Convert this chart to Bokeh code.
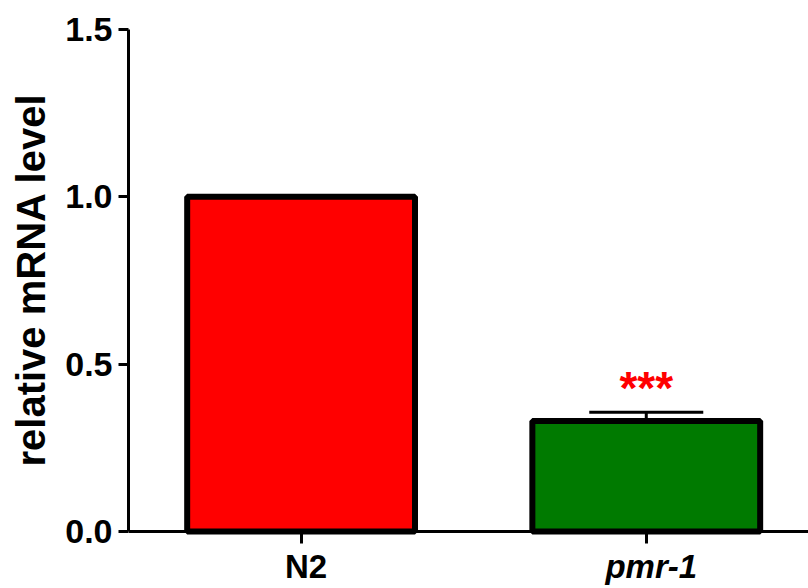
from bokeh.plotting import figure
from bokeh.models import ColumnDataSource, Whisker, TeeHead, FixedTicker, Range1d, Title
from bokeh.core.properties import value
from bokeh.embed import file_html
from bokeh.resources import INLINE

categories = ["N2", "pmr-1"]
values = [1.0, 0.33]
errors = [0.0, 0.026]
colors = ["#FF0000", "#007A00"]
signif = ["", "***"]
label_styles = ["bold", "bold italic"]
yticks = [0.0, 0.5, 1.0, 1.5]
y_title = "relative mRNA level"

xpos = [i + 1 for i in range(len(categories))]
upper = [v + e for v, e in zip(values, errors)]
src = ColumnDataSource(dict(x=xpos, top=values, color=colors, upper=upper,
                            sig=signif, name=categories, style=label_styles))

FONT = "Liberation Sans"
LABEL_ROW = -0.104  # data-y where category names sit (below the baseline)

p = figure(frame_width=680, frame_height=559, min_border_left=128, min_border_top=29,
           min_border_right=0, min_border_bottom=0,
           x_range=Range1d(0.5, 2.47), y_range=Range1d(-0.1703, 1.5),
           x_axis_location="above",
           output_backend="svg", toolbar_location=None)
p.background_fill_color = "white"
p.border_fill_color = "white"
p.outline_line_color = None
p.grid.visible = False

p.vbar(x="x", top="top", width=0.66, bottom=0, source=src, fill_color="color",
       line_color="black", line_width=6)

err_src = ColumnDataSource(dict(x=xpos[1:], lower=values[1:], upper=upper[1:]))
w = Whisker(source=err_src, base="x", lower="lower", upper="upper",
            upper_head=TeeHead(size=114, line_width=3, line_color="black"),
            lower_head=None, line_width=3, line_color="black")
p.add_layout(w)

# significance marker
p.text(x="x", y="upper", text="sig", source=src, text_align="center",
       text_baseline="bottom", text_color="#FF0000", text_font=value(FONT),
       text_font_style="bold", text_font_size="46px", y_offset=2)

# category names
p.text(x="x", y=LABEL_ROW, text="name", source=src, text_align="center",
       text_baseline="alphabetic", text_color="black", text_font=value(FONT),
       text_font_style="style", text_font_size="33px", x_offset=5)

# y axis
ya = p.yaxis[0]
ya.ticker = FixedTicker(ticks=yticks)
ya.bounds = (0, 1.5)
ya.major_label_overrides = {t: f"{t:.1f}" for t in yticks}
ya.major_label_text_font = FONT
ya.major_label_text_font_style = "bold"
ya.major_label_text_font_size = "34px"
ya.major_label_standoff = 6
ya.major_tick_out = 10
ya.major_tick_in = 0

# y axis title, placed along the 0..1.5 span of the axis
p.add_layout(Title(text=y_title, align="left", offset=122, standoff=16,
                   vertical_align="top",
                   text_font=FONT, text_font_style="bold", text_font_size="40px",
                   text_color="black"), "left")

# x axis (drawn at y = 0)
xa = p.xaxis[0]
xa.fixed_location = 0
xa.ticker = FixedTicker(ticks=xpos)
xa.major_label_overrides = {x: "" for x in xpos}
xa.major_tick_out = 0
xa.major_tick_in = 12

for ax in (xa, ya):
    ax.axis_line_width = 3
    ax.axis_line_color = "black"
    ax.major_tick_line_width = 3
    ax.major_tick_line_color = "black"
    ax.minor_tick_line_color = None
    ax.major_label_text_color = "black"

open("out.html", "w").write(file_html(p, INLINE))
